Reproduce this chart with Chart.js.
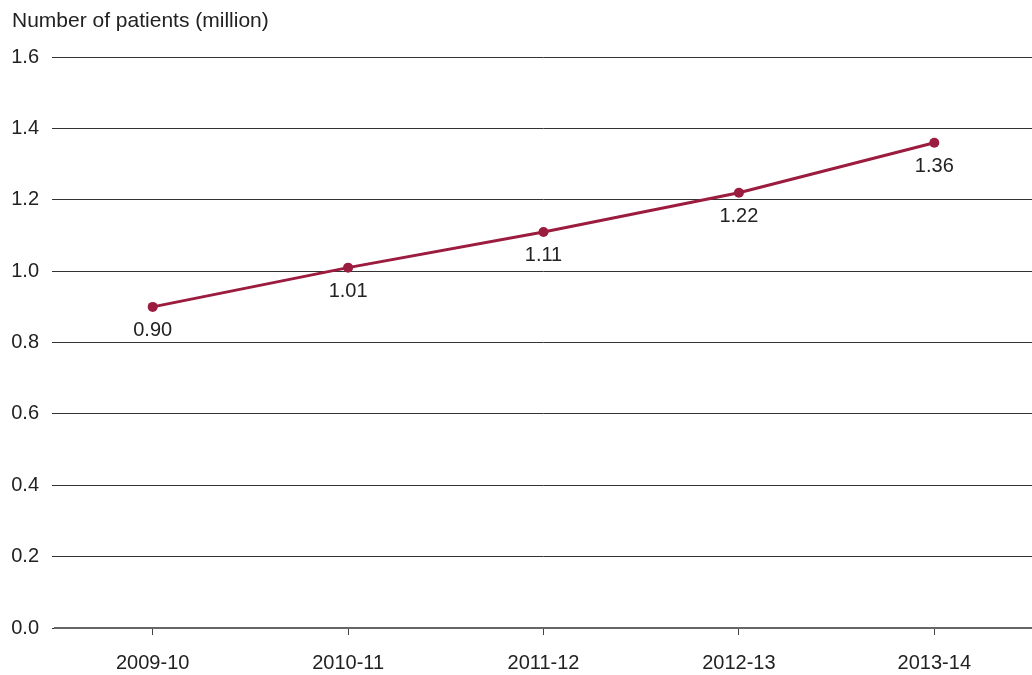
<!DOCTYPE html>
<html><head><meta charset="utf-8">
<script src="https://cdn.jsdelivr.net/npm/chart.js@4.4.1/dist/chart.umd.min.js"></script>
<style>html,body{margin:0;padding:0;background:#fff}#wrap{width:1032px;height:675px}</style>
</head><body><div id="wrap"><canvas id="c" width="1032" height="675"></canvas></div>
<script>
const categories = ['2009-10','2010-11','2011-12','2012-13','2013-14'];
const patients = [0.90, 1.01, 1.11, 1.22, 1.36];
const valueLabels = ['0.90','1.01','1.11','1.22','1.36'];
const yTicks = [0, 0.2, 0.4, 0.6, 0.8, 1.0, 1.2, 1.4, 1.6];
const titleText = 'Number of patients (million)';

const FONT = '"Liberation Sans", Arial, sans-serif';
const LINE = '#9b1c3e';

const labelPlugin = {
  id: 'valLabels',
  afterDatasetsDraw(chart) {
    const ctx = chart.ctx;
    const meta = chart.getDatasetMeta(0);
    ctx.save();
    ctx.font = '20px ' + FONT;
    ctx.fillStyle = '#222';
    ctx.textAlign = 'center';
    ctx.textBaseline = 'middle';
    meta.data.forEach((pt, i) => {
      ctx.fillText(valueLabels[i], pt.x, pt.y + 24);
    });
    ctx.restore();
  }
};

new Chart(document.getElementById('c'), {
  type: 'line',
  data: {
    labels: categories,
    datasets: [{
      data: patients,
      borderColor: LINE,
      backgroundColor: LINE,
      borderWidth: 3,
      pointRadius: 5,
      pointHoverRadius: 5,
      pointBackgroundColor: LINE,
      pointBorderWidth: 0,
      tension: 0
    }]
  },
  options: {
    responsive: false,
    animation: false,
    devicePixelRatio: 1,
    layout: { autoPadding: false, padding: { left: 12, right: 0, top: 9, bottom: 0 } },
    plugins: {
      legend: { display: false },
      tooltip: { enabled: false },
      title: {
        display: true, text: titleText, align: 'start',
        color: '#222', font: { family: FONT, size: 21, weight: 'normal', lineHeight: 1.15 },
        padding: { top: 0, bottom: 24 }
      }
    },
    scales: {
      x: {
        offset: true,
        afterFit(scale) { scale.height = 47; },
        grid: { drawOnChartArea: false, drawTicks: true, tickLength: 7, color: '#444', lineWidth: 1 },
        border: { display: true, color: '#666', width: 2 },
        ticks: { color: '#222', font: { family: FONT, size: 20 }, padding: 16, maxRotation: 0 }
      },
      y: {
        min: 0, max: 1.6,
        afterBuildTicks(scale) { scale.ticks = yTicks.map(v => ({ value: v })); },
        afterFit(scale) { scale.width = 43; },
        grid: { color: '#333', lineWidth: 1, drawTicks: true, tickLength: 3 },
        border: { display: false },
        ticks: { color: '#222', font: { family: FONT, size: 20 }, padding: 13,
          callback: v => Number(v).toFixed(1) }
      }
    }
  },
  plugins: [labelPlugin]
});
</script></body></html>
